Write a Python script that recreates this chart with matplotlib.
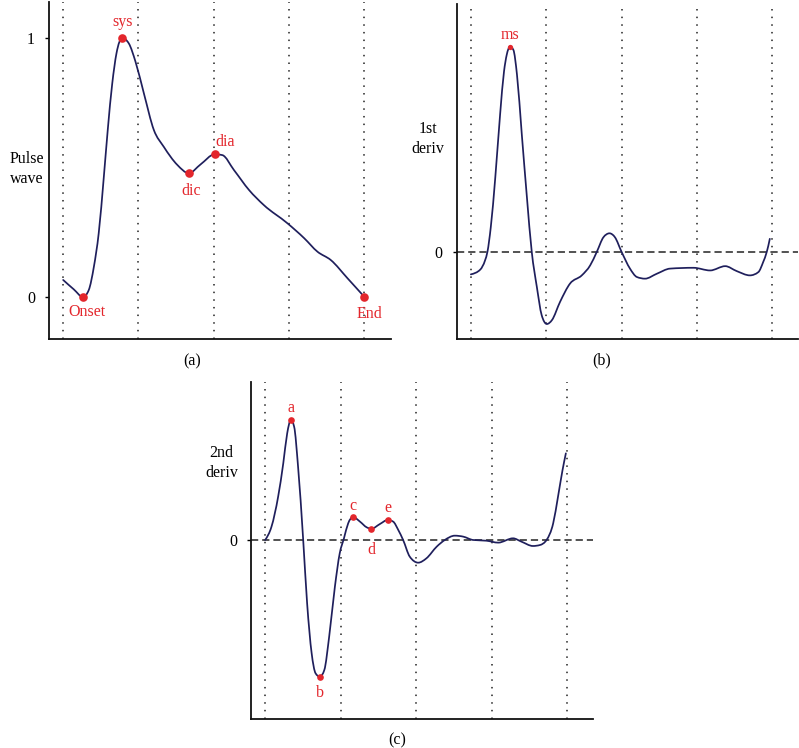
import matplotlib
matplotlib.use("Agg")
import matplotlib.pyplot as plt
from matplotlib.path import Path
from matplotlib.patches import PathPatch

plt.rcParams['font.family'] = ['Liberation Serif', 'DejaVu Serif']

# ---------------- data ----------------
# (a) pulse wave
t_a = [0.000, 0.035, 0.066, 0.085, 0.102, 0.118, 0.135, 0.148, 0.163, 0.177, 0.196,
       0.218, 0.240, 0.268, 0.301, 0.334, 0.379, 0.417, 0.456, 0.503, 0.528, 0.567,
       0.617, 0.666, 0.744, 0.800, 0.844, 0.888, 0.944, 1.000]
y_a = [0.066, 0.030, 0.000, 0.027, 0.117, 0.246, 0.464, 0.645, 0.825, 0.941, 1.000,
       0.979, 0.909, 0.786, 0.645, 0.580, 0.510, 0.478, 0.512, 0.551, 0.548, 0.490,
       0.413, 0.355, 0.285, 0.227, 0.175, 0.143, 0.072, 0.000]
pts_a_names = ["Onset", "sys", "dic", "dia", "End"]
pts_a_t = [0.066, 0.196, 0.417, 0.503, 1.000]
pts_a_y = [0.000, 1.000, 0.478, 0.551, 0.000]

# (b) first derivative
t_b = [0.000, 0.031, 0.047, 0.055, 0.066, 0.081, 0.097, 0.110, 0.119, 0.130, 0.141,
       0.153, 0.169, 0.186, 0.202, 0.219, 0.235, 0.252, 0.269, 0.296, 0.329, 0.368,
       0.396, 0.418, 0.440, 0.460, 0.478, 0.500, 0.528, 0.551, 0.578, 0.617, 0.661,
       0.739, 0.794, 0.844, 0.882, 0.926, 0.954, 0.970, 0.982, 0.992]
y_b = [-0.110, -0.087, -0.042, 0.000, 0.119, 0.362, 0.669, 0.879, 0.960, 1.000, 0.984,
       0.863, 0.572, 0.265, 0.000, -0.172, -0.309, -0.352, -0.333, -0.244, -0.155, -0.115,
       -0.066, 0.000, 0.071, 0.090, 0.071, 0.000, -0.082, -0.123, -0.131, -0.107, -0.082,
       -0.078, -0.091, -0.070, -0.094, -0.115, -0.099, -0.050, 0.000, 0.063]
pts_b_names = ["ms"]
pts_b_t = [0.130]
pts_b_y = [1.000]

# (c) second derivative
t_c = [0.000, 0.021, 0.043, 0.060, 0.073, 0.085, 0.096, 0.109, 0.126, 0.139, 0.154,
       0.167, 0.181, 0.196, 0.212, 0.231, 0.247, 0.261, 0.275, 0.291, 0.314, 0.336,
       0.352, 0.380, 0.406, 0.424, 0.441, 0.457, 0.479, 0.507, 0.534, 0.568, 0.595,
       0.628, 0.656, 0.689, 0.733, 0.772, 0.821, 0.849, 0.887, 0.910, 0.932, 0.954,
       0.970, 0.985, 0.996]
y_c = [0.000, 0.111, 0.361, 0.639, 0.889, 1.000, 0.944, 0.611, 0.000, -0.528, -0.944,
       -1.111, -1.139, -1.083, -0.806, -0.389, -0.111, 0.014, 0.139, 0.192, 0.153, 0.106,
       0.094, 0.133, 0.167, 0.153, 0.083, 0.000, -0.139, -0.189, -0.153, -0.056, 0.000,
       0.036, 0.028, 0.000, -0.006, -0.022, 0.014, -0.014, -0.050, -0.042, 0.000, 0.139,
       0.361, 0.583, 0.722]
pts_c_names = ["a", "b", "c", "d", "e"]
pts_c_t = [0.085, 0.181, 0.291, 0.352, 0.406]
pts_c_y = [1.000, -1.139, 0.192, 0.094, 0.167]

grid_t = [0.0, 0.25, 0.5, 0.75, 1.0]

# ---------------- style ----------------
LINE = "#1f1f5c"
RED = "#e3262c"
FS = 11.5
PX = 0.72  # points per pixel at dpi 100

fig = plt.figure(figsize=(7.99, 7.48), dpi=100)


def monotone_path(xs, ys):
    """Smooth path through the data points (monotone cubic, like d3.curveMonotoneX)."""
    n = len(xs)
    h = [xs[i + 1] - xs[i] for i in range(n - 1)]
    s = [(ys[i + 1] - ys[i]) / h[i] for i in range(n - 1)]
    m = [0.0] * n
    for i in range(1, n - 1):
        s0, s1 = s[i - 1], s[i]
        if s0 * s1 <= 0:
            m[i] = 0.0
        else:
            p = (s0 * h[i] + s1 * h[i - 1]) / (h[i - 1] + h[i])
            sign = 1 if s0 > 0 else -1
            m[i] = sign * min(abs(s0), abs(s1), 0.5 * abs(p)) * 2
    m[0] = (3 * s[0] - m[1]) / 2
    m[-1] = (3 * s[-1] - m[-2]) / 2
    verts = [(xs[0], ys[0])]
    codes = [Path.MOVETO]
    for i in range(n - 1):
        d = h[i] / 3
        verts += [(xs[i] + d, ys[i] + m[i] * d),
                  (xs[i + 1] - d, ys[i + 1] - m[i + 1] * d),
                  (xs[i + 1], ys[i + 1])]
        codes += [Path.CURVE4] * 3
    return Path(verts, codes)


def draw_curve(ax, xs, ys):
    ax.add_patch(PathPatch(monotone_path(xs, ys), fill=False, edgecolor=LINE,
                           lw=1.25, zorder=3, capstyle="round", joinstyle="round"))


def setup(ax, ylim, yticks, zero_line):
    ax.set_xlim(-0.047, 1.087)
    ax.set_ylim(*ylim)
    for s in ["top", "right"]:
        ax.spines[s].set_visible(False)
    for s in ["left", "bottom"]:
        ax.spines[s].set_linewidth(1.3)
        ax.spines[s].set_color("#111111")
    ax.set_xticks([])
    ax.set_yticks(yticks)
    ax.set_yticklabels([str(v) for v in yticks])
    ax.tick_params(axis="y", length=3, width=1.0, pad=7, labelsize=FS)
    for g in grid_t:
        ax.axvline(g, color="#222222", lw=1.1, linestyle=(0, (1, 4)), zorder=1)
    if zero_line:
        ax.axhline(0, color="#444444", lw=1.3, linestyle=(0, (4, 2.2)), zorder=2)


def annotate(ax, names, ts, ys, offsets, ms):
    ax.plot(ts, ys, "o", color=RED, markersize=ms, zorder=5, markeredgewidth=0)
    for n, t, y, (dx, dy) in zip(names, ts, ys, offsets):
        ax.annotate(n, (t, y), xytext=(dx * PX, dy * PX), textcoords="offset points",
                    ha="center", va="center", color=RED, fontsize=FS, zorder=6)


# (a)
ax_a = fig.add_axes([0.0613, 0.5468, 0.4277, 0.4505])
setup(ax_a, (-0.162, 1.139), [0, 1], False)
draw_curve(ax_a, t_a, y_a)
annotate(ax_a, pts_a_names, pts_a_t, pts_a_y,
         [(4, -15), (0, 16), (2, -18), (10, 12), (5, -17)], 6.2)

# (b)
ax_b = fig.add_axes([0.5716, 0.5468, 0.4277, 0.4480])
setup(ax_b, (-0.425, 1.208), [0], True)
draw_curve(ax_b, t_b, y_b)
annotate(ax_b, pts_b_names, pts_b_t, pts_b_y, [(0, 12)], 3.8)

# (c)
ax_c = fig.add_axes([0.3141, 0.0384, 0.4285, 0.4513])
setup(ax_c, (-1.494, 1.319), [0], True)
draw_curve(ax_c, t_c, y_c)
annotate(ax_c, pts_c_names, pts_c_t, pts_c_y,
         [(0, 12), (0, -16), (0, 11), (0, -21), (0, 12)], 4.8)

# y labels
W, H = 799.0, 748.0
fig.text(27 / W, 1 - 169 / H, "Pulse\nwave", ha="center", va="center", fontsize=FS,
         multialignment="center", linespacing=1.3)
fig.text(428 / W, 1 - 139 / H, "1st\nderiv", ha="center", va="center", fontsize=FS,
         multialignment="center", linespacing=1.3)
fig.text(221.7 / W, 1 - 463 / H, "2nd\nderiv", ha="center", va="center", fontsize=FS,
         multialignment="center", linespacing=1.3)

# captions
fig.text(192 / W, 1 - 361 / H, "(a)", ha="center", va="center", fontsize=FS)
fig.text(601.7 / W, 1 - 360 / H, "(b)", ha="center", va="center", fontsize=FS)
fig.text(396.7 / W, 1 - 740 / H, "(c)", ha="center", va="center", fontsize=FS)

fig.savefig("out.png", dpi=100)
